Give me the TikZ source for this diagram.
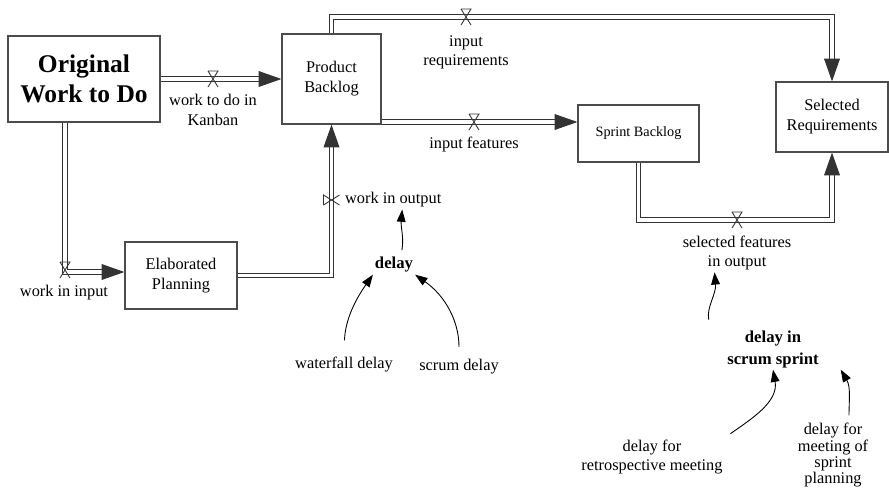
\documentclass[tikz,border=0pt]{standalone}
\usepackage{fontspec}
\setmainfont{LiberationSerif}[Extension=.ttf, UprightFont=*-Regular, BoldFont=*-Bold, ItalicFont=*-Italic, BoldItalicFont=*-BoldItalic]
\usetikzlibrary{arrows.meta}
\tikzset{
	stocknode/.style={
			rectangle,
			draw=black!70,
			line width=0.7pt,
			fill=white,
			align=center,
			inner sep=0pt,
			font=\fontsize{9.3}{11.4}\selectfont
		},
	flowlabel/.style={
			align=center,
			inner sep=1pt,
			font=\fontsize{9.3}{11}\selectfont
		},
	auxbold/.style={
			flowlabel,
			font=\fontsize{9.5}{12.5}\selectfont\bfseries
		},
	flowline/.style={
			draw=black!80,
			line width=0.55pt,
			double,
			double distance=1.8pt,
			-{Triangle[length=13pt,width=9pt]}
		},
	linkarrow/.style={
			draw=black,
			line width=0.5pt,
			-{Triangle[length=7pt,width=5pt]}
		},
	valve/.pic={
			\draw[black!80, line width=0.5pt] (-5,-8) -- (5,-8) -- (-5,8) (-5,-8) -- (5,8);
		}
}

\begin{document}
\begin{tikzpicture}[x=0.02cm, y=-0.02cm]
\useasboundingbox (0,0) rectangle (889,488);
\node[stocknode, minimum width=3.04cm, minimum height=1.72cm, font=\fontsize{14.5}{17}\selectfont\bfseries] (orig) at (84,79) {Original\\Work to Do};
\node[stocknode, minimum width=1.98cm, minimum height=1.8cm] (pb) at (331.5,79) {Product\\Backlog};
\node[stocknode, minimum width=2.24cm, minimum height=1.34cm] (elab) at (181,275.5) {Elaborated\\Planning};
\node[stocknode, minimum width=2.42cm, minimum height=1.14cm, font=\fontsize{8.1}{10}\selectfont] (sprint) at (638.5,133.5) {Sprint Backlog};
\node[stocknode, minimum width=2.24cm, minimum height=1.4cm] (selreq) at (832,117) {Selected\\Requirements};

\coordinate (vkanban) at (213,79);
\coordinate (vin) at (65,272);
\coordinate (vout) at (331.5,200);
\coordinate (vreq) at (466,17);
\coordinate (vfeat) at (474,122);
\coordinate (vsel) at (737,220);

\draw[flowline] (orig) -- (pb);
\draw[flowline] (orig.south -| vin) -- (vin) -- (elab.west |- vin);
\draw[flowline] (elab.east) -- (elab.east -| pb.south) -- (pb.south);
\draw[flowline] (pb.north) -- (pb.north |- vreq) -- (vreq -| selreq.north) -- (selreq.north);
\draw[flowline] (pb.east |- vfeat) -- (sprint.west |- vfeat);
\draw[flowline] (sprint.south) -- (sprint.south |- vsel) -- (vsel -| selreq.south) -- (selreq.south);

\pic at (vkanban) {valve};
\pic at ([yshift=0.04cm]vin) {valve};
\pic[rotate=90] at (vout) {valve};
\pic at (vreq) {valve};
\pic at (vfeat) {valve};
\pic at (vsel) {valve};

\node[flowlabel] (lkanban) at (213,110) {work to do in\\Kanban};
\node[flowlabel] (lin) at (64,293) {work in input};
\node[flowlabel, anchor=west] (lout) at (343,200) {work in output};
\node[flowlabel] (lreq) at (466,52) {input\\requirements};
\node[flowlabel] (lfeat) at (474,144) {input features};
\node[flowlabel] (lsel) at (737,253) {selected features\\in output};

\node[auxbold] (delay) at (394,265) {delay};
\node[flowlabel] (wfdelay) at (344,364) {waterfall delay};
\node[flowlabel] (scdelay) at (459,367) {scrum delay};
\node[auxbold] (dsprint) at (773,349) {delay in\\scrum sprint};
\node[flowlabel] (dretro) at (652,457) {delay for\\retrospective meeting};
\node[flowlabel, font=\fontsize{9.3}{8}\selectfont] (dplan) at (833,455) {delay for\\meeting of\\sprint\\planning};

\draw[linkarrow, shorten <=3pt] ([xshift=0.14cm]delay.north) to[out=80,in=-95] ([xshift=0.18cm]lout.south);
\draw[linkarrow, shorten <=8pt] (wfdelay.north) to[out=88,in=235] (delay.south west);
\draw[linkarrow, shorten <=6pt] (scdelay.north) to[out=90,in=-35] (delay.south east);
\draw[linkarrow, shorten <=5pt] ([xshift=-0.3cm]dsprint.north west) to[out=100,in=-85] ([xshift=-0.45cm]lsel.south);
\draw[linkarrow, shorten <=4pt] (dretro.north east) to[out=35,in=-80] (dsprint.south);
\draw[linkarrow, shorten <=3pt] ([xshift=0.32cm]dplan.north) to[out=90,in=-60] ([xshift=0.4cm]dsprint.south east);
\end{tikzpicture}
\end{document}
